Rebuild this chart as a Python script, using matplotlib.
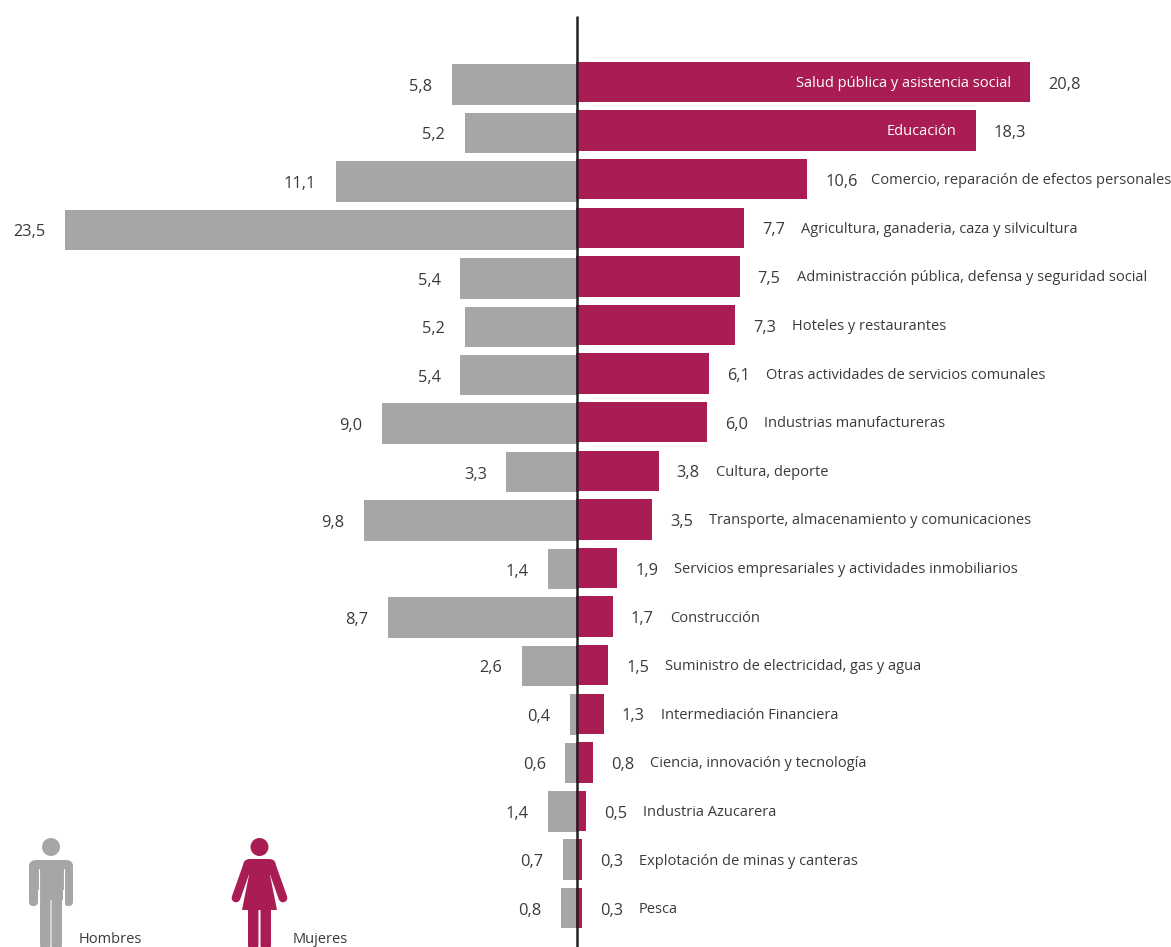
import numpy as np
import matplotlib
matplotlib.use('Agg')
import matplotlib.pyplot as plt
from matplotlib.patches import Circle, FancyBboxPatch, Polygon

# datos
sectores = ['Salud pública y asistencia social', 'Educación',
            'Comercio, reparación de efectos personales',
            'Agricultura, ganaderia, caza y silvicultura',
            'Administracción pública, defensa y seguridad social',
            'Hoteles y restaurantes', 'Otras actividades de servicios comunales',
            'Industrias manufactureras', 'Cultura, deporte',
            'Transporte, almacenamiento y comunicaciones',
            'Servicios empresariales y actividades inmobiliarios', 'Construcción',
            'Suministro de electricidad, gas y agua', 'Intermediación Financiera',
            'Ciencia, innovación y tecnología', 'Industria Azucarera',
            'Explotación de minas y canteras', 'Pesca']
hombres = [5.8, 5.2, 11.1, 23.5, 5.4, 5.2, 5.4, 9.0, 3.3, 9.8, 1.4, 8.7, 2.6, 0.4, 0.6, 1.4, 0.7, 0.8]
mujeres = [20.8, 18.3, 10.6, 7.7, 7.5, 7.3, 6.1, 6.0, 3.8, 3.5, 1.9, 1.7, 1.5, 1.3, 0.8, 0.5, 0.3, 0.3]

W, H = 1171, 947
ESC = 21.87  # pixeles por punto porcentual
X0 = 577
GRIS = '#A6A6A6'
GUINDA = '#A91D54'
TEXTO = '#3A3A3A'
TAM_VALOR = 11.8
TAM_TEXTO = 10.5

plt.rcParams['font.family'] = ['Open Sans', 'DejaVu Sans']
plt.rcParams['font.size'] = TAM_TEXTO

fig = plt.figure(figsize=(W / 100, H / 100), dpi=100)
ax = fig.add_axes([0, 0, 1, 1])
ax.set_xlim(-X0 / ESC, (W - X0) / ESC)
ax.set_ylim(H, 0)  # eje y en pixeles
ax.axis('off')

n = len(sectores)
y_h = 84.5 + np.arange(n) * 48.45
y_m = 82 + np.arange(n) * 48.6

# las barras arrancan un poco detras de la linea central
solape = 1.5 / ESC
ax.barh(y_h, -np.array(hombres), left=solape, height=40.5, color=GRIS)
ax.barh(y_m, mujeres, left=-solape, height=40.5, color=GUINDA)
ax.vlines(0, 16, H, color='#222222', lw=1.8)


def coma(v):
    return f'{v:.1f}'.replace('.', ',')


dx = 18 / ESC
for i in range(n):
    ax.text(-hombres[i] - dx, y_h[i] + 2.5, coma(hombres[i]), ha='right', va='center',
            color=TEXTO, fontsize=TAM_VALOR)
    ax.text(mujeres[i] + dx - solape, y_m[i] + 2.5, coma(mujeres[i]), ha='left', va='center',
            color=TEXTO, fontsize=TAM_VALOR)
    if i < 2:
        # las dos primeras van dentro de la barra
        ax.text(mujeres[i] - 21 / ESC, y_m[i] + 1, sectores[i], ha='right', va='center', color='white')
    else:
        extra = 46 if i == 2 else 39
        ax.text(mujeres[i] + dx - solape + extra / ESC, y_m[i] + 1.5, sectores[i], ha='left', va='center', color=TEXTO)

# iconos, en pixeles
ic = fig.add_axes([0, 0, 1, 1])
ic.set_xlim(0, W)
ic.set_ylim(H, 0)
ic.axis('off')
ic.patch.set_alpha(0)


def barra(x, y, w, h, color, r=4):
    ic.add_patch(FancyBboxPatch((x + r, y + r), w - 2 * r, h - 2 * r,
                                boxstyle=f'round,pad={r},rounding_size={r}',
                                fc=color, ec='none'))


# hombre
ic.add_patch(Circle((51, 847), 9, fc=GRIS, ec='none'))
barra(29, 860, 44, 30, GRIS, r=7)
barra(29, 862, 9, 44, GRIS, r=4.4)
barra(64, 862, 9, 44, GRIS, r=4.4)
ic.plot([38.5, 38.5], [869, 907], color='white', lw=0.8)
ic.plot([63.5, 63.5], [869, 907], color='white', lw=0.8)
ic.add_patch(Polygon([(39, 865), (63, 865), (63, 900), (39, 900)], fc=GRIS, ec='none'))
barra(40, 890, 10.5, 60, GRIS, r=5)
barra(51.5, 890, 10.5, 60, GRIS, r=5)

# mujer
ic.add_patch(Circle((259.5, 847), 9, fc=GUINDA, ec='none'))
barra(243, 859, 33, 16, GUINDA, r=7)
ic.add_patch(Polygon([(249, 865), (270, 865), (270, 875), (277, 910), (242, 910), (249, 875)],
                     fc=GUINDA, ec='none'))
ic.plot([247, 236], [867, 898], color=GUINDA, lw=6.3, solid_capstyle='round')
ic.plot([272, 283], [867, 898], color=GUINDA, lw=6.3, solid_capstyle='round')
barra(248, 900, 10.5, 50, GUINDA, r=5)
barra(260.5, 900, 10.5, 50, GUINDA, r=5)

ic.text(79, 942.5, 'Hombres', ha='left', va='baseline', color=TEXTO)
ic.text(293, 942.5, 'Mujeres', ha='left', va='baseline', color=TEXTO)

fig.savefig('out.png', dpi=100)
